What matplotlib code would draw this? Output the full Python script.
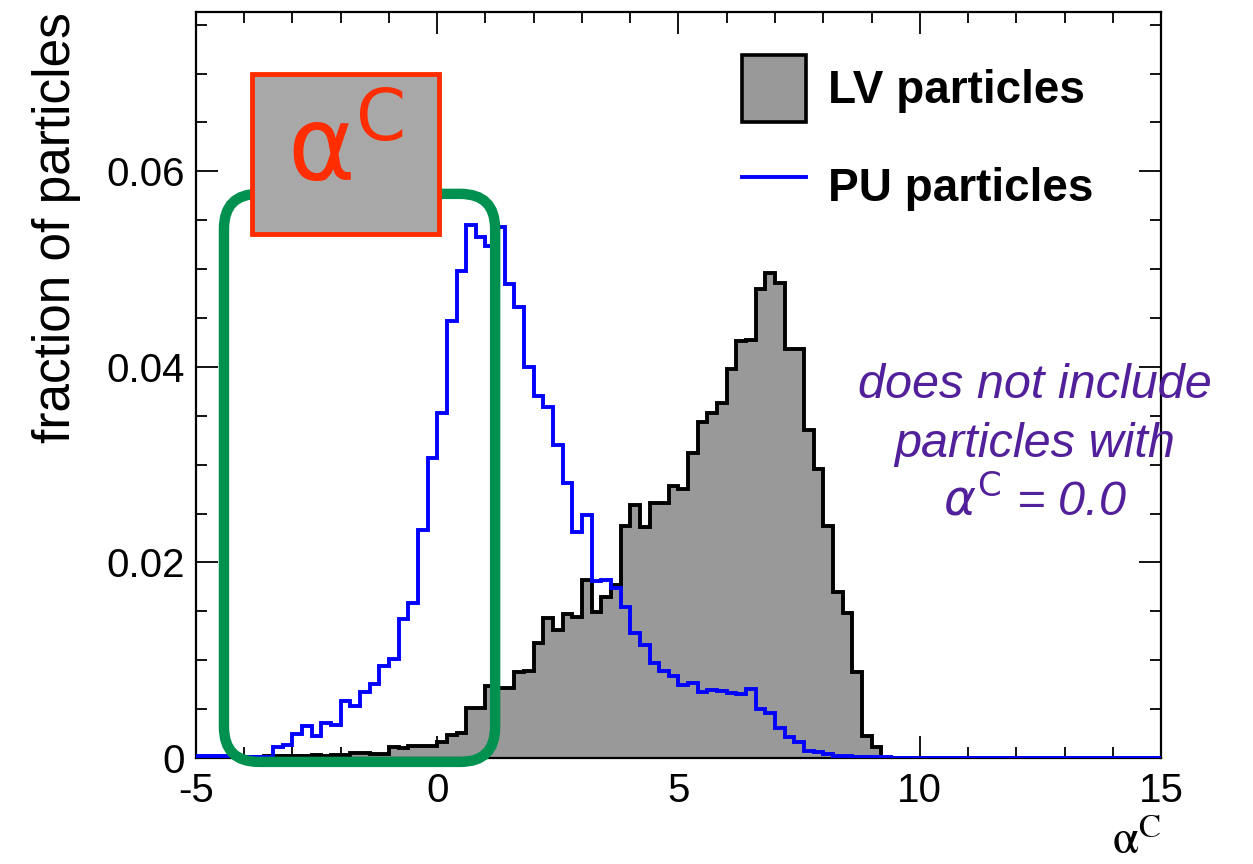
import numpy as np
import matplotlib
matplotlib.use("Agg")
import matplotlib.pyplot as plt
from matplotlib.patches import FancyBboxPatch, Rectangle, Patch
from matplotlib.lines import Line2D
from matplotlib.ticker import MultipleLocator

plt.rcParams['font.family'] = ['Liberation Sans', 'DejaVu Sans']

# histogram binning: 100 bins of 0.2 from -5 to 15
bin_lo, bin_hi, n_bins = -5.0, 15.0, 100

# fraction of PU particles per bin, starting at -5 (10 bins per row)
pu_frac = [
    0.0002, 0.0002, 0.0002, 0.0002, 0.0001, 0.0001, 0.0001, 0.0001, 0.0011, 0.0013,
    0.0025, 0.0033, 0.0022, 0.0036, 0.0034, 0.0058, 0.0053, 0.0068, 0.0076, 0.0094,
    0.0101, 0.0142, 0.0159, 0.0233, 0.0307, 0.0353, 0.0447, 0.0498, 0.0545, 0.0533,
    0.0524, 0.0543, 0.0485, 0.0461, 0.0400, 0.0370, 0.0359, 0.0320, 0.0281, 0.0231,
    0.0249, 0.0181, 0.0182, 0.0174, 0.0154, 0.0128, 0.0116, 0.0097, 0.0089, 0.0084,
    0.0075, 0.0077, 0.0068, 0.0070, 0.0069, 0.0066, 0.0065, 0.0071, 0.0050, 0.0046,
    0.0031, 0.0021, 0.0016, 0.0007, 0.0006, 0.0004, 0.0002, 0.0002, 0.0001, 0.0001,
    0.0001, 0.0001,
]

# fraction of LV particles per bin, starting at -5 (10 bins per row)
lv_frac = [
    0.0, 0.0, 0.0, 0.0, 0.0001, 0.0001, 0.0001, 0.0002, 0.0002, 0.0002,
    0.0002, 0.0002, 0.0003, 0.0002, 0.0003, 0.0003, 0.0005, 0.0005, 0.0004, 0.0004,
    0.0011, 0.0010, 0.0012, 0.0012, 0.0012, 0.0016, 0.0024, 0.0026, 0.0051, 0.0051,
    0.0074, 0.0072, 0.0072, 0.0088, 0.0089, 0.0118, 0.0143, 0.0131, 0.0147, 0.0144,
    0.0182, 0.0149, 0.0165, 0.0177, 0.0237, 0.0259, 0.0236, 0.0261, 0.0261, 0.0278,
    0.0275, 0.0312, 0.0344, 0.0353, 0.0363, 0.0398, 0.0427, 0.0428, 0.0480, 0.0496,
    0.0486, 0.0418, 0.0418, 0.0335, 0.0296, 0.0237, 0.0170, 0.0148, 0.0088, 0.0023,
    0.0011,
]

x_ticks = [-5, 0, 5, 10, 15]
x_tick_labels = ['-5', '0', '5', '10', '15']
y_ticks = [0, 0.02, 0.04, 0.06]
y_tick_labels = ['0', '0.02', '0.04', '0.06']

legend_labels = ['LV particles', 'PU particles']
note_lines = ['does not include', 'particles with', r'$\alpha^{\mathrm{C}}$ = 0.0']

edges = np.linspace(bin_lo, bin_hi, n_bins + 1)
pu = np.pad(np.array(pu_frac), (0, n_bins - len(pu_frac)))
lv = np.pad(np.array(lv_frac), (0, n_bins - len(lv_frac)))

fig = plt.figure(figsize=(12.53, 8.64), dpi=100)
ax = fig.add_axes([0.1564, 0.1227, 0.7702, 0.8634])

# histograms
ax.stairs(lv, edges, fill=True, facecolor='#999999', edgecolor='black',
          linewidth=2.8, zorder=2)
ax.stairs(pu, edges, color='#0000ff', linewidth=2.8, zorder=3)

ax.set_xlim(bin_lo, bin_hi)
ax.set_ylim(0, 0.0763)

# ROOT-like frame and ticks
for sp in ax.spines.values():
    sp.set_linewidth(1.6)
ax.set_xticks(x_ticks, x_tick_labels)
ax.set_yticks(y_ticks, y_tick_labels)
ax.xaxis.set_minor_locator(MultipleLocator(1))
ax.yaxis.set_minor_locator(MultipleLocator(0.005))
ax.tick_params(which='both', direction='in', top=True, right=True, width=1.3)
ax.tick_params(which='major', length=16)
ax.tick_params(which='minor', length=8)
ax.tick_params(axis='x', labelsize=29, pad=10)
ax.tick_params(axis='y', labelsize=29, pad=8)

ax.set_ylabel('fraction of particles', fontsize=37, loc='top', labelpad=18)
ax.set_xlabel(r'$\mathrm{\alpha}^{\mathrm{C}}$', fontsize=34, loc='right',
              labelpad=7, math_fontfamily='stix')

# legend
handles = [
    Patch(facecolor='#999999', edgecolor='black', linewidth=2.6),
    Line2D([], [], color='#0000ff', linewidth=2.8),
]
ax.legend(handles, legend_labels, loc='upper left', bbox_to_anchor=(0.5658, 0.942),
          frameon=False, borderpad=0, borderaxespad=0, handlelength=1.40,
          handleheight=1.85, handletextpad=0.48, labelspacing=0.68,
          prop={'weight': 'bold', 'size': 33})

# side note
note_y = [0.4826, 0.4035, 0.3257]
for line, yy in zip(note_lines, note_y):
    ax.text(0.869, yy, line, transform=ax.transAxes, ha='center', va='baseline',
            fontsize=35, style='italic', color='#52209a',
            math_fontfamily='dejavusans')

# green highlight around the alpha^C < 1 region
px_x = 965 / 20.0
px_y = 746 / 0.0763
green = FancyBboxPatch((-4.42, -0.0004), 5.62, 0.0581,
                       boxstyle='round,pad=0,rounding_size=%f' % (35 / px_x),
                       mutation_aspect=px_x / px_y, facecolor='none',
                       edgecolor='#009150', linewidth=7.5, clip_on=False, zorder=4)
ax.add_patch(green)

# red labelled box
red_box = Rectangle((-3.84, 0.0536), 3.876, 0.0164, facecolor='#a8a8a8',
                    edgecolor='#ff2d00', linewidth=3.5, zorder=5)
ax.add_patch(red_box)
ax.text(-1.90, 0.0618, r'$\mathrm{\alpha}^{\mathrm{C}}$', ha='center', va='center',
        fontsize=74, color='#ff2d00', math_fontfamily='dejavusans', zorder=6)

fig.savefig('out.png', dpi=100)
